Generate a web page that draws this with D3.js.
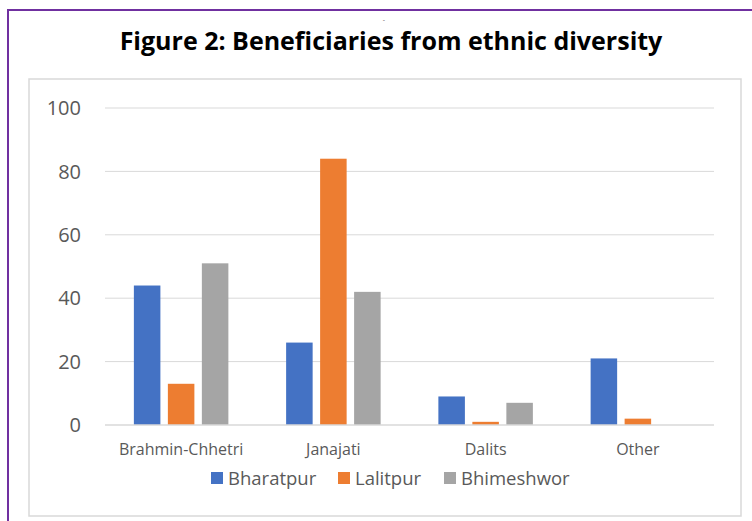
<!DOCTYPE html>
<html>
<head>
<meta charset="utf-8">
<script src="https://cdn.jsdelivr.net/npm/d3@7"></script>
<style>
  body { margin: 0; background: #fff; }
  text { font-family: "Open Sans", Lato, sans-serif; }
</style>
</head>
<body>
<div id="chart"></div>
<script>
const width = 752, height = 521;
const margin = { top: 108, right: 38, bottom: 96, left: 105 };

// data
const categories = ['Brahmin-Chhetri', 'Janajati', 'Dalits', 'Other'];
const seriesNames = ['Bharatpur', 'Lalitpur', 'Bhimeshwor'];
const bharatpur = [44, 26, 9, 21];
const lalitpur = [13, 84, 1, 2];
const bhimeshwor = [51, 42, 7, 0];
const yTicks = [0, 20, 40, 60, 80, 100];
const colors = ['#4472c4', '#ed7d31', '#a5a5a5'];

const seriesValues = [bharatpur, lalitpur, bhimeshwor];
const rows = categories.map((c, i) => ({
  cat: c,
  vals: seriesNames.map((s, j) => ({ key: s, value: seriesValues[j][i] }))
}));

const svg = d3.select('#chart').append('svg')
  .attr('width', width)
  .attr('height', height);

// outer purple frame (runs off the right/bottom edge)
svg.append('rect')
  .attr('x', 8).attr('y', 10)
  .attr('width', 800).attr('height', 600)
  .attr('fill', 'none')
  .attr('stroke', '#7030a0')
  .attr('stroke-width', 2);

// title
svg.append('text')
  .attr('x', 391).attr('y', 50)
  .attr('text-anchor', 'middle')
  .style('font-size', '25px')
  .style('font-weight', 'bold')
  .attr('fill', '#000')
  .text('Figure 2: Beneficiaries from ethnic diversity');

// tiny stray mark above the title
svg.append('text')
  .attr('x', 384).attr('y', 22)
  .attr('text-anchor', 'middle')
  .style('font-size', '7px')
  .attr('fill', '#666')
  .text('-');

// chart area box
svg.append('rect')
  .attr('x', 29).attr('y', 79)
  .attr('width', 712).attr('height', 437)
  .attr('fill', 'none')
  .attr('stroke', '#d9d9d9')
  .attr('stroke-width', 1.5);

const x0 = d3.scaleBand()
  .domain(categories)
  .range([margin.left, width - margin.right]);

const groupW = 94.5;
const x1 = d3.scaleBand()
  .domain(seriesNames)
  .range([-groupW / 2, groupW / 2])
  .paddingInner(0.22);

const y = d3.scaleLinear()
  .domain([0, 100])
  .range([height - margin.bottom, margin.top]);

// gridlines
svg.append('g')
  .selectAll('line')
  .data(yTicks.filter(d => d > 0))
  .join('line')
  .attr('x1', margin.left)
  .attr('x2', width - margin.right)
  .attr('y1', d => y(d))
  .attr('y2', d => y(d))
  .attr('stroke', '#d9d9d9')
  .attr('stroke-width', 1);

// y tick labels
svg.append('g')
  .selectAll('text')
  .data(yTicks)
  .join('text')
  .attr('x', 81)
  .attr('y', d => y(d))
  .attr('dy', '0.36em')
  .attr('text-anchor', 'end')
  .style('font-size', '20px')
  .attr('fill', '#595959')
  .text(d => d);

// bars
svg.append('g')
  .selectAll('g')
  .data(rows)
  .join('g')
  .attr('transform', d => `translate(${x0(d.cat) + x0.bandwidth() / 2},0)`)
  .selectAll('rect')
  .data(d => d.vals)
  .join('rect')
  .attr('x', d => x1(d.key))
  .attr('width', x1.bandwidth())
  .attr('y', d => y(d.value))
  .attr('height', d => y(0) - y(d.value))
  .attr('fill', (d, i) => colors[i]);

// baseline
svg.append('line')
  .attr('x1', margin.left)
  .attr('x2', width - margin.right)
  .attr('y1', y(0))
  .attr('y2', y(0))
  .attr('stroke', '#d9d9d9')
  .attr('stroke-width', 1.5);

// category labels
svg.append('g')
  .selectAll('text')
  .data(categories)
  .join('text')
  .attr('x', d => x0(d) + x0.bandwidth() / 2)
  .attr('y', 455)
  .attr('text-anchor', 'middle')
  .style('font-size', '16px')
  .attr('fill', '#595959')
  .text(d => d);

// legend
const legendX = [211, 338, 444];
const legend = svg.append('g')
  .selectAll('g')
  .data(seriesNames)
  .join('g')
  .attr('transform', (d, i) => `translate(${legendX[i]},472)`);

legend.append('rect')
  .attr('width', 12).attr('height', 12)
  .attr('fill', (d, i) => colors[i]);

legend.append('text')
  .attr('x', 17)
  .attr('y', 13)
  .style('font-size', '18.5px')
  .attr('fill', '#595959')
  .text(d => d);
</script>
</body>
</html>
